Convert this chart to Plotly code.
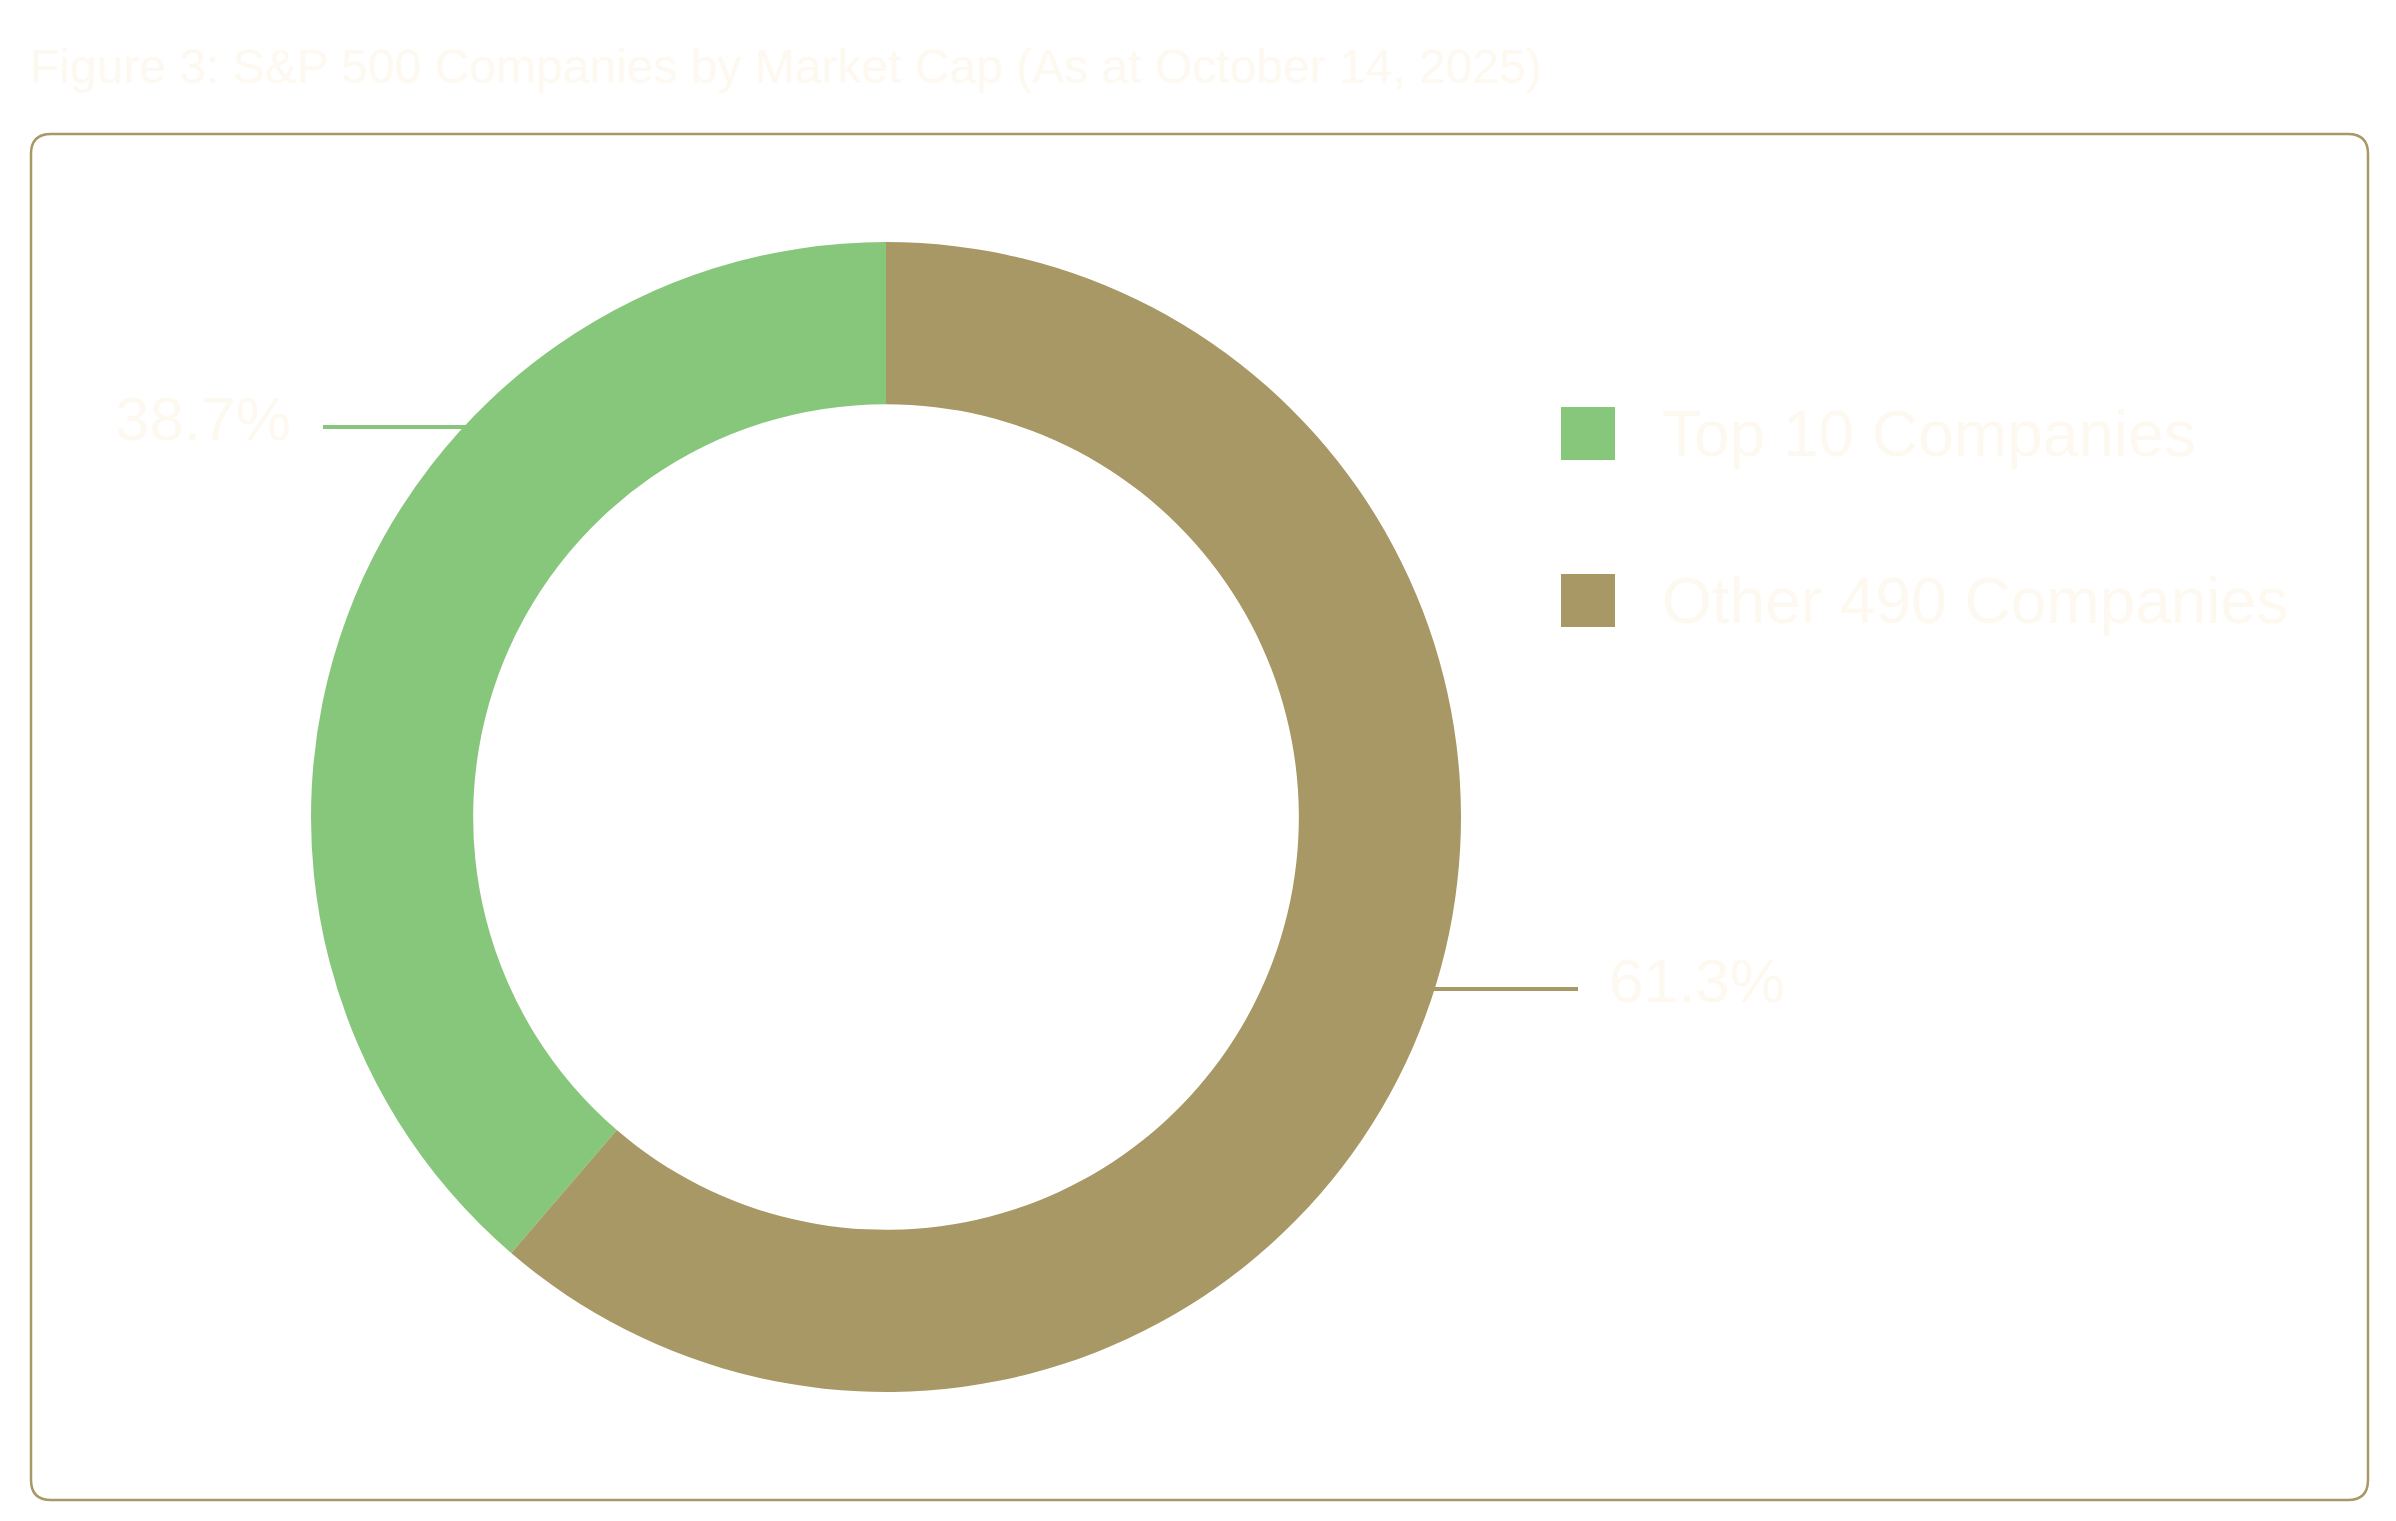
import plotly.graph_objects as go

W, H = 2396, 1521
PAD = 8  # default body margin of the html page
FW, FH = W - 2 * PAD, H - 2 * PAD

# chart data
labels = ["Top 10 Companies", "Other 490 Companies"]
shares = [38.7, 61.3]
colors = ["#87C77B", "#A89865"]

title_text = "Figure 3: S&P 500 Companies by Market Cap (As at October 14, 2025)"
font_family = "Liberation Sans, Arial, sans-serif"
text_color = "#FEF9F0"
frame_color = "#A89865"


def px_x(x):
    return (x - PAD) / FW


def px_y(y):
    # screen pixels from top -> paper coords
    return 1 - (y - PAD) / FH


# donut placement (screen pixels)
cx, cy, r = 886, 817, 575

# first slice should run anticlockwise from 12 o'clock
start = -360 * shares[0] / sum(shares)

fig = go.Figure(
    go.Pie(
        labels=labels,
        values=shares,
        hole=0.718,
        sort=False,
        direction="clockwise",
        rotation=start,
        marker=dict(colors=colors, line=dict(width=0)),
        textinfo="none",
        hoverinfo="label+percent",
        showlegend=False,
        domain=dict(x=[px_x(cx - r), px_x(cx + r)], y=[px_y(cy + r), px_y(cy - r)]),
    )
)

# rounded frame around the chart
x0, x1, y0, y1, rad = px_x(31), px_x(2368), px_y(134), px_y(1500), 20
rx, ry = rad / FW, rad / FH
frame = (
    f"M {x0 + rx},{y0} L {x1 - rx},{y0} Q {x1},{y0} {x1},{y0 - ry} "
    f"L {x1},{y1 + ry} Q {x1},{y1} {x1 - rx},{y1} "
    f"L {x0 + rx},{y1} Q {x0},{y1} {x0},{y1 + ry} "
    f"L {x0},{y0 - ry} Q {x0},{y0} {x0 + rx},{y0} Z"
)
shapes = [dict(type="path", path=frame, xref="paper", yref="paper",
               line=dict(color=frame_color, width=2.5), layer="below")]
annotations = []

# data labels with leader lines
label_pos = [
    dict(line=(323, 466, 427), text_x=293, text_y=418, anchor="right"),
    dict(line=(1433, 1578, 989), text_x=1607, text_y=981, anchor="left"),
]
for val, col, pos in zip(shares, colors, label_pos):
    lx0, lx1, ly = pos["line"]
    shapes.append(dict(type="line", xref="paper", yref="paper",
                       x0=px_x(lx0), x1=px_x(lx1), y0=px_y(ly), y1=px_y(ly),
                       line=dict(color=col, width=4)))
    annotations.append(dict(text=f"{val:.1f}%", xref="paper", yref="paper",
                            x=px_x(pos["text_x"]), y=px_y(pos["text_y"]),
                            xanchor=pos["anchor"], yanchor="middle", showarrow=False,
                            font=dict(family=font_family, size=62, color=text_color)))

# legend drawn by hand so the swatches can be large
for i, (lab, col) in enumerate(zip(labels, colors)):
    top = 407 + i * 167
    shapes.append(dict(type="rect", xref="paper", yref="paper",
                       x0=px_x(1561), x1=px_x(1615), y0=px_y(top + 53), y1=px_y(top),
                       fillcolor=col, line=dict(width=0)))
    annotations.append(dict(text=lab, xref="paper", yref="paper",
                            x=px_x(1660), y=px_y(top + 27), xanchor="left", yanchor="middle",
                            showarrow=False,
                            font=dict(family=font_family, size=64, color=text_color)))

fig.update_layout(
    width=FW,
    height=FH,
    margin=dict(l=0, r=0, t=0, b=0),
    paper_bgcolor="white",
    plot_bgcolor="white",
    title=dict(text=title_text, x=px_x(30), xanchor="left", xref="paper",
               y=px_y(66), yanchor="middle", yref="paper",
               font=dict(family=font_family, size=48, color=text_color)),
    shapes=shapes,
    annotations=annotations,
)

fig.write_html("out.html")
